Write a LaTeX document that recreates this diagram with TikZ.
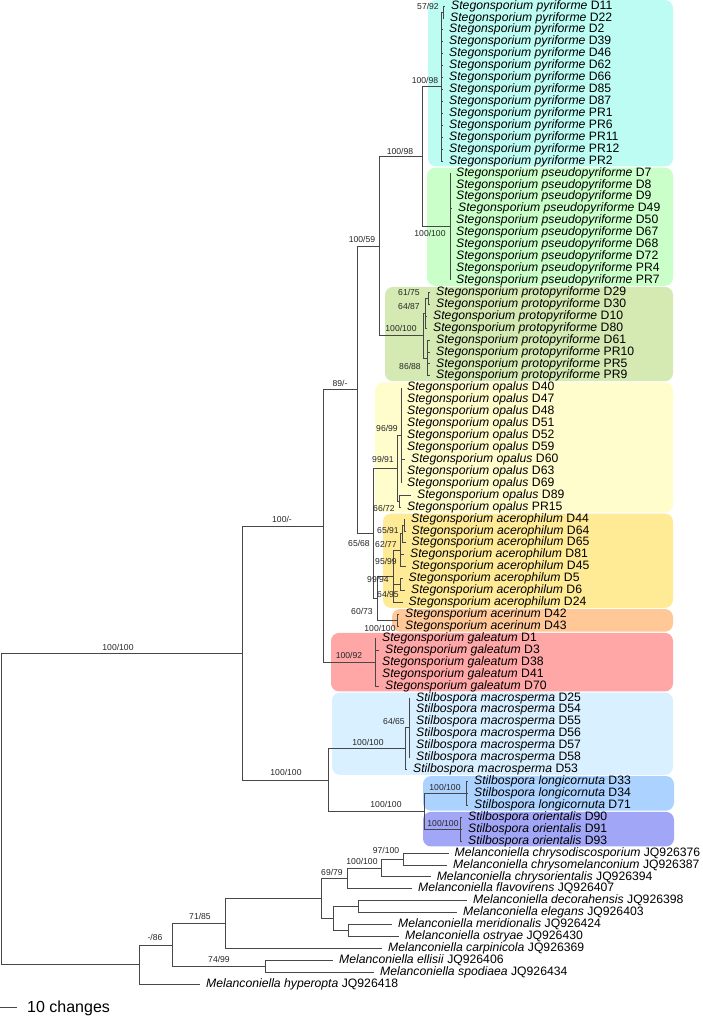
\documentclass[tikz,border=0pt]{standalone}
\usepackage{fontspec}
\setmainfont{Liberation Sans}
\definecolor{cPyr}{RGB}{188,252,242}
\definecolor{cPse}{RGB}{202,255,202}
\definecolor{cPro}{RGB}{212,234,178}
\definecolor{cOpa}{RGB}{255,253,204}
\definecolor{cAcp}{RGB}{255,234,150}
\definecolor{cAcr}{RGB}{255,200,150}
\definecolor{cGal}{RGB}{255,166,166}
\definecolor{cMac}{RGB}{216,240,255}
\definecolor{cLon}{RGB}{172,210,255}
\definecolor{cOri}{RGB}{162,166,246}
\newcommand\leafx[5]{\node[leaf] (L#1) at (#2,#1) {\textit{#4} #5}; \draw[br] (#3) |- (L#1.west);}
\begin{document}
\begin{tikzpicture}[x=1pt,y=-11.93pt,
  br/.style={draw=black!72, line width=0.85pt},
  leaf/.style={anchor=west, inner xsep=6pt, inner ysep=0pt, font=\fontsize{12.2}{12}\selectfont, text height=8.6pt, text depth=2.4pt},
  bs/.style={font=\fontsize{8.6}{9}\selectfont, inner sep=0pt, text=black!85},
  clade/.style={rounded corners=8pt}]
\useasboundingbox (0pt,0pt) rectangle (702pt,-1017pt);
\fill[white] (0pt,0pt) rectangle (702pt,-1017pt);
\begin{scope}[yshift=-6pt]
% clade boxes
\fill[cPyr,clade] (428,-0.5) rectangle (673,13.45);
\fill[cPse,clade] (427,13.55) rectangle (673,23.45);
\fill[cPro,clade] (385,23.55) rectangle (673,31.45);
\fill[cOpa,clade] (375,31.55) rectangle (673,42.45);
\fill[cAcp,clade] (383,42.55) rectangle (673,50.45);
\fill[cAcr,clade] (392,50.55) rectangle (673,52.45);
\fill[cGal,clade] (331,52.55) rectangle (673,57.45);
\fill[cMac,clade] (332,57.55) rectangle (673,64.45);
\fill[cLon,clade] (423,64.55) rectangle (674,67.45);
\fill[cOri,clade] (423,67.55) rectangle (674,70.45);
% internal nodes
\coordinate (Root) at (1,67.29);
\coordinate (A) at (242,54.229);
\coordinate (B) at (323,43.582);
\coordinate (C) at (357,32.164);
\coordinate (D) at (379,20.125);
\coordinate (E) at (422,12.625);
\coordinate (Py) at (441,6.75);
\coordinate (Py1) at (443,0.5);
\coordinate (Ps) at (450,18.5);
\coordinate (P) at (423,27.625);
\coordinate (P1) at (425,25.75);
\coordinate (P11) at (428,24.5);
\coordinate (P2) at (427,29.5);
\coordinate (Q) at (373,44.203);
\coordinate (O) at (397,38.75);
\coordinate (O1) at (401,36);
\coordinate (O2) at (399,41.5);
\coordinate (R) at (377,49.656);
\coordinate (Acer) at (393,47.8125);
\coordinate (N95) at (400,45.625);
\coordinate (N62) at (402,44.25);
\coordinate (N65) at (404,43.5);
\coordinate (N64) at (400,48.5);
\coordinate (Acr) at (397,51.5);
\coordinate (G) at (375,55);
\coordinate (St) at (328,64.875);
\coordinate (M) at (405,62.25);
\coordinate (S) at (409,60.5);
\coordinate (LO) at (424.5,67.5);
\coordinate (Lg) at (466.5,66);
\coordinate (Or) at (460,69);
\coordinate (X) at (139,80.352);
\coordinate (Y) at (172,78.703);
\coordinate (Z) at (225,76.906);
\coordinate (W) at (321,74.8125);
\coordinate (N69) at (347,73.125);
\coordinate (N100) at (381,72.25);
\coordinate (N97) at (403,71.5);
\coordinate (V) at (333,76.5);
\coordinate (U) at (358,75.5);
\coordinate (T) at (348,77.5);
\coordinate (E2) at (265,80.5);
\foreach \p/\c in {Root/A, Root/X, A/B, A/St, B/C, B/G, C/D, C/Q, D/E, D/P, E/Py, E/Ps, Py/Py1, P/P1, P/P2, P1/P11, Q/O, Q/R, O/O1, O/O2, R/Acer, R/Acr, Acer/N95, Acer/N64, N95/N62, N62/N65, St/M, St/LO, M/S, LO/Lg, LO/Or, X/Y, Y/Z, Y/E2, Z/W, W/N69, W/V, N69/N100, N100/N97, V/U, V/T}
  {\draw[br] (\p) |- (\c);}
% leaves
\leafx{0}{445}{Py1}{Stegonsporium pyriforme}{D11}
\leafx{1}{444}{Py1}{Stegonsporium pyriforme}{D22}
\foreach \r/\c in {2/D2,3/D39,4/D46,5/D62,6/D66,7/D85,8/D87,9/PR1,10/PR6,11/PR11,12/PR12,13/PR2}
  {\leafx{\r}{443}{Py}{Stegonsporium pyriforme}{\c}}
\foreach \r/\c in {14/D7,15/D8,16/D9,18/D50,19/D67,20/D68,21/D72,22/PR4,23/PR7}
  {\leafx{\r}{450}{Ps}{Stegonsporium pseudopyriforme}{\c}}
\leafx{17}{452}{Ps}{Stegonsporium pseudopyriforme}{D49}
\leafx{24}{430}{P11}{Stegonsporium protopyriforme}{D29}
\leafx{25}{430}{P11}{Stegonsporium protopyriforme}{D30}
\leafx{26}{427}{P1}{Stegonsporium protopyriforme}{D10}
\leafx{27}{427}{P1}{Stegonsporium protopyriforme}{D80}
\foreach \r/\c in {28/D61,29/PR10,30/PR5,31/PR9}
  {\leafx{\r}{430}{P2}{Stegonsporium protopyriforme}{\c}}
\foreach \r/\c in {32/D40,33/D47,34/D48,35/D51,36/D52,37/D59,39/D63,40/D69}
  {\leafx{\r}{401}{O1}{Stegonsporium opalus}{\c}}
\leafx{38}{405}{O1}{Stegonsporium opalus}{D60}
\leafx{41}{411}{O2}{Stegonsporium opalus}{D89}
\leafx{42}{401}{O2}{Stegonsporium opalus}{PR15}
\leafx{43}{405}{N65}{Stegonsporium acerophilum}{D44}
\leafx{44}{405.5}{N65}{Stegonsporium acerophilum}{D64}
\leafx{45}{405.5}{N62}{Stegonsporium acerophilum}{D65}
\leafx{46}{404}{N95}{Stegonsporium acerophilum}{D81}
\leafx{47}{405.5}{N95}{Stegonsporium acerophilum}{D45}
\leafx{48}{402.5}{N64}{Stegonsporium acerophilum}{D5}
\leafx{49}{405}{N64}{Stegonsporium acerophilum}{D6}
\leafx{50}{402.5}{Acer}{Stegonsporium acerophilum}{D24}
\leafx{51}{399}{Acr}{Stegonsporium acerinum}{D42}
\leafx{52}{399}{Acr}{Stegonsporium acerinum}{D43}
\leafx{53}{376}{G}{Stegonsporium galeatum}{D1}
\leafx{54}{379}{G}{Stegonsporium galeatum}{D3}
\leafx{55}{376}{G}{Stegonsporium galeatum}{D38}
\leafx{56}{376}{G}{Stegonsporium galeatum}{D41}
\leafx{57}{379}{G}{Stegonsporium galeatum}{D70}
\foreach \r/\c in {58/D25,59/D54,60/D55,61/D56,62/D57,63/D58}
  {\leafx{\r}{410}{S}{Stilbospora macrosperma}{\c}}
\leafx{64}{407}{M}{Stilbospora macrosperma}{D53}
\foreach \r/\c in {65/D33,66/D34,67/D71}
  {\leafx{\r}{468}{Lg}{Stilbospora longicornuta}{\c}}
\foreach \r/\c in {68/D90,69/D91,70/D93}
  {\leafx{\r}{462}{Or}{Stilbospora orientalis}{\c}}
\leafx{71}{448.5}{N97}{Melanconiella chrysodiscosporium}{JQ926376}
\leafx{72}{447}{N97}{Melanconiella chrysomelanconium}{JQ926387}
\leafx{73}{430.6}{N100}{Melanconiella chrysorientalis}{JQ926394}
\leafx{74}{412}{N69}{Melanconiella flavovirens}{JQ926407}
\leafx{75}{467}{U}{Melanconiella decorahensis}{JQ926398}
\leafx{76}{457}{U}{Melanconiella elegans}{JQ926403}
\leafx{77}{392}{T}{Melanconiella meridionalis}{JQ926424}
\leafx{78}{399}{T}{Melanconiella ostryae}{JQ926430}
\leafx{79}{382}{Z}{Melanconiella carpinicola}{JQ926369}
\leafx{80}{333}{E2}{Melanconiella ellisii}{JQ926406}
\leafx{81}{374}{E2}{Melanconiella spodiaea}{JQ926434}
\leafx{82}{200}{X}{Melanconiella hyperopta}{JQ926418}
\end{scope}
% support labels
\node[bs] (b1) at (428pt,-6pt) {57/92};
\node[bs] (b2) at (425pt,-80pt) {100/98};
\node[bs] (b3) at (400pt,-151pt) {100/98};
\node[bs] (b4) at (430pt,-233pt) {100/100};
\node[bs] (b5) at (362pt,-239pt) {100/59};
\node[bs] (b6) at (409pt,-292pt) {61/75};
\node[bs] (b7) at (409pt,-306pt) {64/87};
\node[bs] (b8) at (401pt,-328pt) {100/100};
\node[bs] (b9) at (410pt,-366pt) {86/88};
\node[bs] (b10) at (340pt,-383pt) {89/-};
\node[bs] (b11) at (387pt,-428pt) {96/99};
\node[bs] (b12) at (383pt,-459pt) {99/91};
\node[bs] (b13) at (384pt,-508pt) {66/72};
\node[bs] (b14) at (388pt,-530pt) {65/91};
\node[bs] (b15) at (359pt,-543pt) {65/68};
\node[bs] (b16) at (386pt,-544pt) {62/77};
\node[bs] (b17) at (386pt,-561pt) {95/99};
\node[bs] (b18) at (378pt,-579pt) {99/94};
\node[bs] (b19) at (388pt,-594pt) {64/95};
\node[bs] (b20) at (362pt,-611pt) {60/73};
\node[bs] (b21) at (380pt,-628pt) {100/100};
\node[bs] (b22) at (349pt,-655pt) {100/92};
\node[bs] (b23) at (394pt,-721pt) {64/65};
\node[bs] (b24) at (368pt,-742pt) {100/100};
\node[bs] (b25) at (286pt,-772pt) {100/100};
\node[bs] (b26) at (118pt,-647pt) {100/100};
\node[bs] (b27) at (282pt,-519pt) {100/-};
\node[bs] (b28) at (445pt,-787pt) {100/100};
\node[bs] (b29) at (386pt,-804pt) {100/100};
\node[bs] (b30) at (443pt,-823pt) {100/100};
\node[bs] (b31) at (386pt,-850pt) {97/100};
\node[bs] (b32) at (362pt,-861pt) {100/100};
\node[bs] (b33) at (332pt,-872pt) {69/79};
\node[bs] (b34) at (200pt,-916pt) {71/85};
\node[bs] (b35) at (155pt,-937pt) {-/86};
\node[bs] (b36) at (219pt,-959pt) {74/99};
% scale bar
\coordinate (s0) at (0pt,-1007pt);
\coordinate (s1) at (17pt,-1007pt);
\draw[br] (s0) -- (s1);
\node[anchor=base west, inner sep=0pt, font=\fontsize{16}{16}\selectfont] (sc) at (27pt,-1012.5pt) {10 changes};
\end{tikzpicture}
\end{document}
